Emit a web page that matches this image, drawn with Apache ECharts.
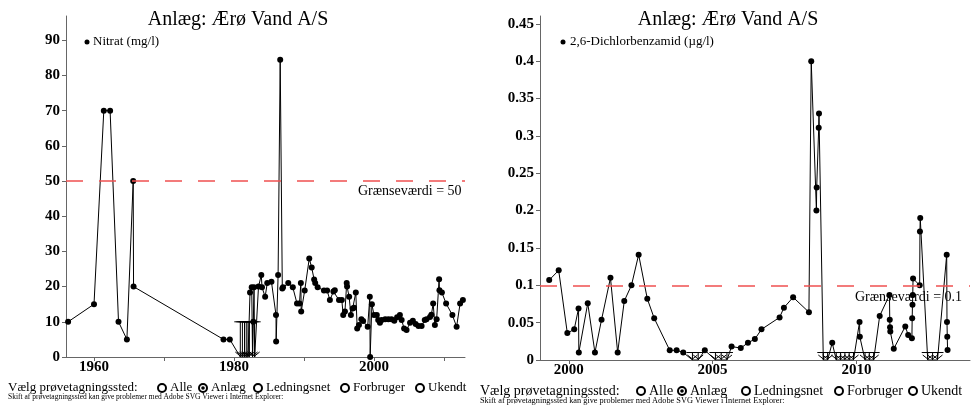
<!DOCTYPE html>
<html>
<head>
<meta charset="utf-8">
<script src="https://cdn.jsdelivr.net/npm/echarts@6/dist/echarts.min.js"></script>
<style>
  html, body { margin: 0; padding: 0; background: #fff; }
  #chart { width: 974px; height: 406px; }
</style>
</head>
<body>
<div id="chart"></div>
<script>
// Nitrat (mg/l), decimal year + value
var nitratYear = [1956.3, 1960.0, 1961.4, 1962.3, 1963.5, 1964.7, 1965.6, 1965.65, 1978.5, 1979.4,
  1982.29, 1982.53, 1982.76, 1982.86, 1983.5, 1983.9, 1984.0, 1984.45, 1984.75, 1985.35,
  1986.0, 1986.02, 1986.3, 1986.6, 1986.9, 1987.0, 1987.75, 1988.4, 1989.0, 1989.35,
  1989.55, 1989.6, 1990.1, 1990.75, 1991.1, 1991.45, 1991.6, 1991.95, 1992.85, 1993.3,
  1993.7, 1994.2, 1994.4, 1995.0, 1995.4, 1995.6, 1995.85, 1996.1, 1996.15, 1996.45,
  1996.7, 1996.95, 1997.15, 1997.4, 1997.6, 1997.85, 1998.2, 1998.45, 1999.1, 1999.4,
  1999.45, 1999.7, 2000.0, 2000.4, 2000.6, 2000.85, 2001.1, 2001.6, 2002.05, 2002.5,
  2002.9, 2003.3, 2003.7, 2003.95, 2004.3, 2004.65, 2005.15, 2005.55, 2005.95, 2006.35,
  2006.8, 2007.25, 2007.5, 2008.0, 2008.2, 2008.45, 2008.7, 2008.95, 2009.3, 2009.35,
  2009.7, 2010.3, 2011.2, 2011.8, 2012.3, 2012.7];
var nitratValue = [10, 15, 70, 70, 10, 5, 50, 20, 5, 5,
  18.3, 19.8, 10, 19.8, 20, 23.3, 19.8, 17.1, 21, 21.4,
  11.9, 4.4, 23.3, 84.5, 19.5, 19.8, 21, 19.8, 15.2, 15.2,
  21, 12.9, 18.9, 28, 25.4, 22, 21, 19.8, 18.9, 18.9,
  16.2, 18.6, 19, 16.2, 16.2, 11.9, 12.9, 21, 20, 17.1,
  11.9, 13.8, 14, 18.3, 8.1, 9.1, 10.7, 10.2, 8.6, 17.1,
  0, 15, 11.9, 11.9, 10.5, 9.7, 10.5, 10.7, 10.7, 10.7,
  10.3, 11.3, 11.9, 10.5, 8.1, 7.7, 9.7, 10.3, 9.4, 8.8,
  8.8, 10.5, 10.7, 11.4, 12, 15.2, 9.1, 10.7, 22.1, 19,
  18.3, 15.2, 11.9, 8.6, 15.2, 16.2];
// samples below detection limit ("<10")
var nitratBelowYear = [1980.9, 1981.2, 1981.5, 1981.75, 1982.0, 1982.2, 1982.65, 1982.95];
var nitratLimit = 10;
var nitratGraense = 50;

// 2,6-Dichlorbenzamid (µg/l)
var dichlorYear = [1999.32, 1999.65, 1999.95, 2000.19, 2000.34, 2000.35, 2000.66, 2000.91, 2001.14, 2001.45,
  2001.70, 2001.93, 2002.18, 2002.43, 2002.73, 2002.97, 2003.51, 2003.75, 2003.98, 2004.73,
  2005.66, 2005.98, 2006.23, 2006.47, 2006.70, 2007.33, 2007.48, 2007.80, 2008.35, 2008.43,
  2008.61, 2008.62, 2008.69, 2008.70, 2009.16, 2010.11, 2010.12, 2010.81, 2011.15, 2011.16,
  2011.17, 2011.18, 2011.30, 2011.70, 2011.80, 2011.93, 2011.94, 2011.95, 2011.96, 2011.97,
  2012.20, 2012.21, 2012.22, 2013.14, 2013.15, 2013.16, 2013.17];
var dichlorValue = [0.107, 0.12, 0.036, 0.041, 0.069, 0.01, 0.076, 0.01, 0.054, 0.11,
  0.01, 0.079, 0.1, 0.141, 0.082, 0.056, 0.013, 0.013, 0.01, 0.013,
  0.018, 0.016, 0.023, 0.028, 0.041, 0.057, 0.07, 0.084, 0.064, 0.4,
  0.2, 0.231, 0.311, 0.33, 0.023, 0.051, 0.031, 0.059, 0.087, 0.054,
  0.044, 0.038, 0.015, 0.045, 0.0335, 0.029, 0.056, 0.074, 0.087, 0.109,
  0.1, 0.172, 0.19, 0.141, 0.051, 0.031, 0.0134];
var dichlorBelowYear = [2004.3, 2004.5, 2005.1, 2005.3, 2005.5, 2008.85, 2009.0, 2009.3, 2009.45, 2009.6,
  2009.75, 2009.9, 2010.3, 2010.45, 2010.6, 2012.48, 2012.65, 2012.82];
var dichlorLimit = 0.01;
var dichlorGraense = 0.1;

var serif = '"Liberation Serif", "DejaVu Serif", serif';

// merge measured and "<" samples into one line, sorted by year
function lineData(years, vals, below) {
  var pts = [];
  years.forEach(function (y, i) { pts.push({ value: [y, vals[i]] }); });
  below.forEach(function (y) { pts.push({ value: [y, 0], symbol: 'none' }); });
  pts.sort(function (a, b) { return a.value[0] - b.value[0]; });
  return pts;
}

function renderBelow(params, api) {
  var x = api.value(0), lim = api.value(1);
  var top = api.coord([x, lim]);
  var bot = api.coord([x, 0]);
  var st = { stroke: '#000', lineWidth: 1, fill: null };
  return {
    type: 'group',
    children: [
      { type: 'line', shape: { x1: top[0], y1: top[1], x2: bot[0], y2: bot[1] }, style: st },
      { type: 'line', shape: { x1: top[0] - 6, y1: top[1], x2: top[0] + 6, y2: top[1] }, style: st },
      { type: 'polyline', shape: { points: [[bot[0] - 5, bot[1] - 5], [bot[0], bot[1] - 1], [bot[0] + 5, bot[1] - 5]] }, style: st }
    ]
  };
}

function axisX(idx, min, max, ticks, labels) {
  return {
    type: 'value', gridIndex: idx, min: min, max: max,
    axisLine: { lineStyle: { color: '#666', width: 1 } },
    axisTick: { customValues: ticks, length: 4, lineStyle: { color: '#666' } },
    axisLabel: {
      customValues: labels, color: '#000', fontFamily: serif, fontWeight: 'bold', fontSize: 15, margin: 3,
      formatter: function (v) { return String(v); }
    },
    splitLine: { show: false }
  };
}
function axisY(idx, max, vals) {
  return {
    type: 'value', gridIndex: idx, min: 0, max: max,
    axisLine: { show: true, lineStyle: { color: '#666', width: 1 } },
    axisTick: { show: true, customValues: vals, length: 4, lineStyle: { color: '#666' } },
    axisLabel: { customValues: vals, color: '#000', fontFamily: serif, fontWeight: 'bold', fontSize: 15, margin: 6 },
    splitLine: { show: false }
  };
}

function limitLine(v) {
  return {
    silent: true, symbol: 'none', label: { show: false },
    lineStyle: { color: '#f05050', type: [17, 16], width: 1.5 },
    data: [{ yAxis: v }]
  };
}

function radio(x, y, on) {
  var arr = [{ type: 'circle', shape: { cx: x, cy: y, r: 4 }, style: { stroke: '#000', lineWidth: 2, fill: '#fff' } }];
  if (on) arr.push({ type: 'circle', shape: { cx: x, cy: y, r: 1.8 }, style: { fill: '#000' } });
  return arr;
}
function txt(x, y, s, size, extra) {
  var o = { type: 'text', x: x, y: y, style: { text: s, font: size + 'px ' + serif, fill: '#000', textVerticalAlign: 'middle' } };
  if (extra) Object.assign(o.style, extra);
  return o;
}

var graphics = [
  txt(238, 20, 'Anlæg: Ærø Vand A/S', 20, { textAlign: 'center' }),
  txt(728, 20, 'Anlæg: Ærø Vand A/S', 20, { textAlign: 'center' }),
  { type: 'circle', shape: { cx: 87, cy: 42, r: 2.5 }, style: { fill: '#000' } },
  txt(93, 42, 'Nitrat (mg/l)', 13),
  { type: 'circle', shape: { cx: 563, cy: 42, r: 2.5 }, style: { fill: '#000' } },
  txt(570, 42, '2,6-Dichlorbenzamid (µg/l)', 13),
  txt(358, 191, 'Grænseværdi = 50', 14),
  txt(855, 297, 'Grænseværdi = 0.1', 14),
  txt(8, 388, 'Vælg prøvetagningssted:', 13),
  txt(8, 397, 'Skift af prøvetagningssted kan give problemer med Adobe SVG Viewer i Internet Explorer:', 7.5),
  txt(480, 391, 'Vælg prøvetagningssted:', 14),
  txt(480, 401, 'Skift af prøvetagningssted kan give problemer med Adobe SVG Viewer i Internet Explorer:', 8.3)
];
var opts = [['Alle', 162], ['Anlæg', 203], ['Ledningsnet', 258], ['Forbruger', 345], ['Ukendt', 420]];
opts.forEach(function (o, i) {
  graphics = graphics.concat(radio(o[1], 388, i === 1));
  graphics.push(txt(o[1] + 8, 388, o[0], 13));
});
var opts2 = [['Alle', 641], ['Anlæg', 682], ['Ledningsnet', 746], ['Forbruger', 839], ['Ukendt', 913]];
opts2.forEach(function (o, i) {
  graphics = graphics.concat(radio(o[1], 391, i === 1));
  graphics.push(txt(o[1] + 8, 391, o[0], 14));
});

var myChart = echarts.init(document.getElementById('chart'));
myChart.setOption({
  animation: false,
  backgroundColor: '#fff',
  grid: [
    { left: 66, top: 16, width: 399, height: 341 },
    { left: 540, top: 16, width: 430, height: 344 }
  ],
  xAxis: [
    axisX(0, 1956, 2013, [1960, 1970, 1980, 1990, 2000, 2010], [1960, 1980, 2000]),
    axisX(1, 1999, 2013.95, [2000, 2005, 2010], [2000, 2005, 2010])
  ],
  yAxis: [
    axisY(0, 96.9, [0, 10, 20, 30, 40, 50, 60, 70, 80, 90]),
    axisY(1, 0.4605, [0, 0.05, 0.1, 0.15, 0.2, 0.25, 0.3, 0.35, 0.4, 0.45])
  ],
  series: [
    {
      type: 'line', xAxisIndex: 0, yAxisIndex: 0,
      data: lineData(nitratYear, nitratValue, nitratBelowYear),
      symbol: 'circle', symbolSize: 6, showAllSymbol: true,
      itemStyle: { color: '#000' }, lineStyle: { color: '#000', width: 1 },
      markLine: limitLine(nitratGraense), z: 3
    },
    {
      type: 'custom', xAxisIndex: 0, yAxisIndex: 0,
      data: nitratBelowYear.map(function (y) { return [y, nitratLimit]; }),
      renderItem: renderBelow, z: 2
    },
    {
      type: 'line', xAxisIndex: 1, yAxisIndex: 1,
      data: lineData(dichlorYear, dichlorValue, dichlorBelowYear),
      symbol: 'circle', symbolSize: 6, showAllSymbol: true,
      itemStyle: { color: '#000' }, lineStyle: { color: '#000', width: 1 },
      markLine: limitLine(dichlorGraense), z: 3
    },
    {
      type: 'custom', xAxisIndex: 1, yAxisIndex: 1,
      data: dichlorBelowYear.map(function (y) { return [y, dichlorLimit]; }),
      renderItem: renderBelow, z: 2
    }
  ],
  graphic: graphics
});
</script>
</body>
</html>
